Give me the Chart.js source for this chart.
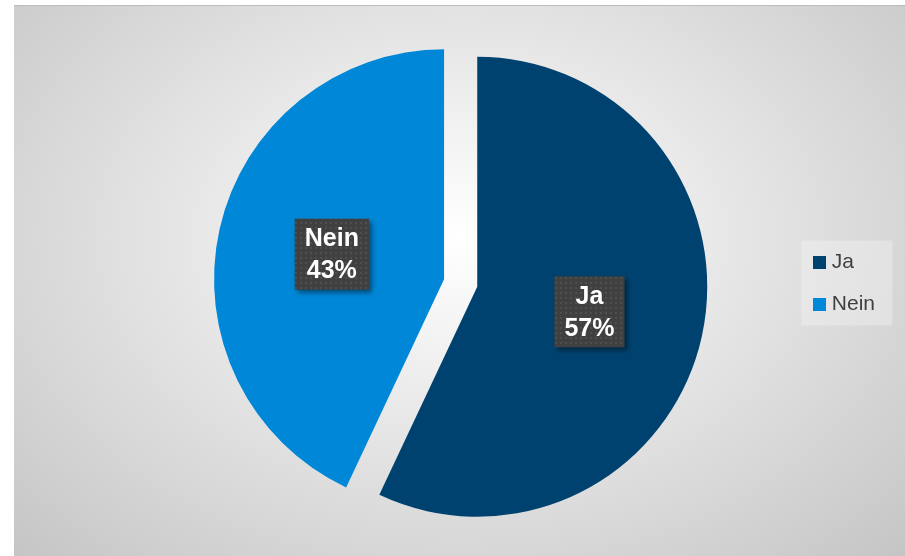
<!DOCTYPE html>
<html>
<head>
<meta charset="utf-8">
<script src="https://cdn.jsdelivr.net/npm/chart.js@4.4.0/dist/chart.umd.min.js"></script>
<style>
    body { margin: 0; background: #ffffff; }
    #frame {
        position: absolute;
        left: 14px;
        top: 5px;
        width: 891px;
        height: 551px;
        box-sizing: border-box;
        border-top: 1px solid #bdbdbd;
        background: radial-gradient(ellipse farthest-corner at 50% 42%, #ffffff 0%, #f3f3f3 22%, #c5c5c5 100%);
    }
</style>
</head>
<body>
<div id="frame"><canvas id="pieChart"></canvas></div>
<script>
const categories = ['Ja', 'Nein'];
const values = [57, 43];
const colors = ['#00426f', '#0087d7'];

const PIE_RADIUS = 230;
const EXPLODE = 17;

// dotted dark fill used behind the data labels
function makeDotPattern(ctx) {
    const c = document.createElement('canvas');
    c.width = 5;
    c.height = 5;
    const p = c.getContext('2d');
    p.fillStyle = '#404040';
    p.fillRect(0, 0, 5, 5);
    p.fillStyle = '#4f4f4f';
    p.fillRect(1, 1, 2, 2);
    return ctx.createPattern(c, 'repeat');
}

// small square marker for the legend
function makeSquare(color) {
    const c = document.createElement('canvas');
    c.width = 13;
    c.height = 13;
    const p = c.getContext('2d');
    p.fillStyle = color;
    p.fillRect(0, 0, 13, 13);
    return c;
}

// chart.js grows an exploded arc by offset * (1 - sin(circumference)) and
// trims its angles a little; undo both so slices keep the same radius and edges
const evenRadius = {
    id: 'evenRadius',
    afterDatasetUpdate(chart, args) {
        args.meta.data.forEach(arc => {
            const fix = 1 - Math.sin(Math.min(Math.PI, arc.circumference || 0));
            const grow = EXPLODE * fix;
            arc.outerRadius = PIE_RADIUS - grow;
            const trim = (grow / Math.PI) / PIE_RADIUS / 2;
            arc.startAngle -= trim;
            arc.endAngle += trim;
        });
    }
};

const legendBackground = {
    id: 'legendBackground',
    beforeDraw(chart) {
        const boxes = chart.legend && chart.legend.legendHitBoxes;
        if (!boxes || !boxes.length) return;
        const ctx = chart.ctx;
        ctx.save();
        ctx.fillStyle = 'rgba(255, 255, 255, 0.28)';
        ctx.fillRect(boxes[0].left - 16, boxes[0].top - 11, 91, 85);
        ctx.restore();
    }
};

const boxedLabels = {
    id: 'boxedLabels',
    afterDatasetsDraw(chart) {
        const ctx = chart.ctx;
        const meta = chart.getDatasetMeta(0);
        const total = values.reduce((a, b) => a + b, 0);
        const pattern = makeDotPattern(ctx);
        ctx.save();
        ctx.font = 'bold 25px Arial, "Liberation Sans", sans-serif';
        meta.data.forEach((arc, i) => {
            const mid = (arc.startAngle + arc.endAngle) / 2;
            const dist = EXPLODE + PIE_RADIUS * 0.5;
            const cx = arc.x + Math.cos(mid) * dist;
            const cy = arc.y + Math.sin(mid) * dist;
            const lines = [categories[i], Math.round(values[i] / total * 100) + '%'];
            const w = Math.max(...lines.map(t => ctx.measureText(t).width)) + 20;
            const h = 71;

            ctx.shadowColor = 'rgba(0, 0, 0, 0.45)';
            ctx.shadowBlur = 5;
            ctx.shadowOffsetX = 3;
            ctx.shadowOffsetY = 3;
            ctx.fillStyle = pattern;
            ctx.fillRect(cx - w / 2, cy - h / 2, w, h);
            ctx.shadowColor = 'transparent';

            ctx.fillStyle = '#ffffff';
            ctx.textAlign = 'center';
            ctx.textBaseline = 'middle';
            ctx.fillText(lines[0], cx, cy - 15);
            ctx.fillText(lines[1], cx, cy + 17);
        });
        ctx.restore();
    }
};

const squares = colors.map(makeSquare);

new Chart(document.getElementById('pieChart'), {
    type: 'pie',
    data: {
        labels: categories,
        datasets: [{
            data: values,
            backgroundColor: colors,
            borderWidth: 0,
            offset: EXPLODE * 4, // chart.js moves arcs by offset / 4
            radius: PIE_RADIUS - EXPLODE
        }]
    },
    options: {
        responsive: true,
        maintainAspectRatio: false,
        animation: false,
        events: [],
        layout: {
            padding: { left: 111, right: 20, top: 10, bottom: 6 }
        },
        plugins: {
            tooltip: { enabled: false },
            legend: {
                position: 'right',
                labels: {
                    usePointStyle: true,
                    pointStyleWidth: 4,
                    boxHeight: 13,
                    padding: 21,
                    color: '#404040',
                    font: { family: 'Arial, "Liberation Sans", sans-serif', size: 21 },
                    generateLabels(chart) {
                        const items = Chart.overrides.pie.plugins.legend.labels.generateLabels(chart);
                        items.forEach((item, i) => { item.pointStyle = squares[i]; });
                        return items;
                    }
                }
            }
        }
    },
    plugins: [evenRadius, legendBackground, boxedLabels]
});
</script>
</body>
</html>
